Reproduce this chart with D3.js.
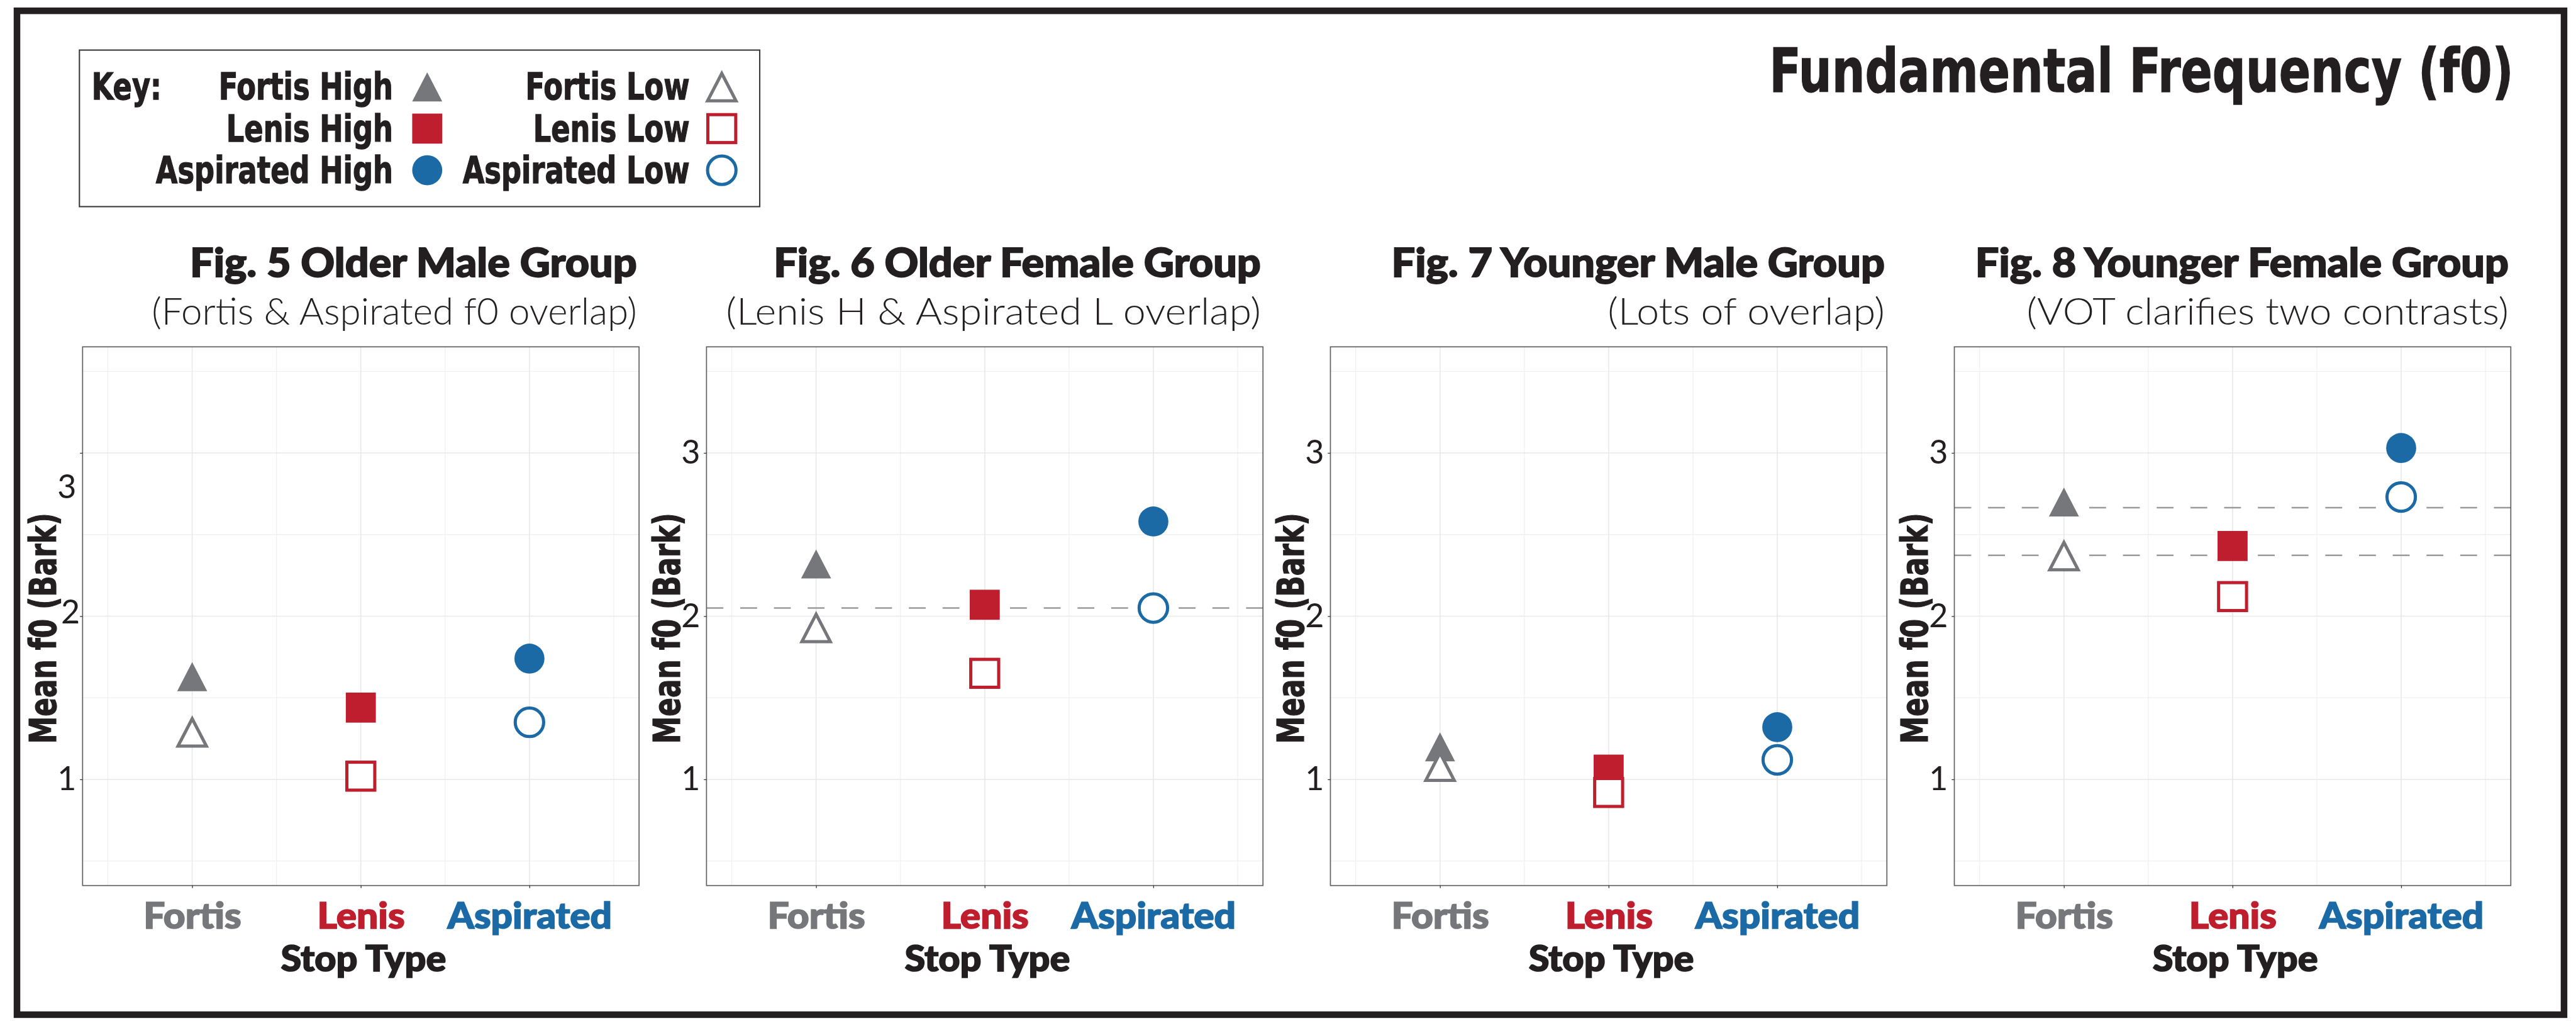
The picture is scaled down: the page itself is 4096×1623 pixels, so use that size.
<!DOCTYPE html>
<html>
<head>
<meta charset="utf-8">
<script src="https://cdn.jsdelivr.net/npm/d3@7"></script>
<style>
  body { margin: 0; background: #fff; }
  svg { display: block; }
</style>
</head>
<body>
<svg id="chart"></svg>
<script>
(function() {

  // ---- data ----
  var categories = ["Fortis", "Lenis", "Aspirated"];
  var categoryColors = ["#76777b", "#be1e2d", "#1b6aa5"];

  var figTitles = ["Fig. 5 Older Male Group", "Fig. 6 Older Female Group",
                   "Fig. 7 Younger Male Group", "Fig. 8 Younger Female Group"];
  var figSubtitles = ["(Fortis & Aspirated f0 overlap)", "(Lenis H & Aspirated L overlap)",
                      "(Lots of overlap)", "(VOT clarifies two contrasts)"];

  // mean f0 (Bark), one row per figure, columns = Fortis, Lenis, Aspirated
  var highMeans = [[1.60, 1.44, 1.74],
                   [2.29, 2.07, 2.58],
                   [1.17, 1.06, 1.32],
                   [2.67, 2.43, 3.03]];
  var lowMeans  = [[1.26, 1.02, 1.35],
                   [1.90, 1.65, 2.05],
                   [1.05, 0.92, 1.12],
                   [2.34, 2.12, 2.73]];

  // dashed reference lines per figure
  var guideLines = [[], [2.05], [], [2.665, 2.373]];

  var yTicks = [1, 2, 3];
  var keyHigh = ["Fortis High", "Lenis High", "Aspirated High"];
  var keyLow = ["Fortis Low", "Lenis Low", "Aspirated Low"];
  var mainTitle = "Fundamental Frequency (f0)";
  var xTitle = "Stop Type";
  var yTitle = "Mean f0 (Bark)";

  // ---- drawing (in reference pixels, scaled by the viewBox) ----
  var W = 4887, H = 1937;

  var ink = "#231f20";
  var condensed = "'Liberation Sans Narrow', 'DejaVu Sans Condensed', 'Liberation Sans', Arial, sans-serif";
  var geometric = "Lato, 'Noto Sans', sans-serif";

  // widths the subtitles take in the reference
  var subtitleWidths = [921, 1015, 526, 915];

  var svg = d3.select("#chart")
      .attr("width", 4096)
      .attr("height", 1623)
      .attr("viewBox", "0 0 " + W + " " + H);

  function measure(text, font, size, weight) {
    var t = svg.append("text")
        .style("font-family", font)
        .style("font-size", size + "px")
        .style("font-weight", weight)
        .text(text);
    var w = t.node().getComputedTextLength();
    t.remove();
    return w;
  }

  // horizontal squeeze factors so the available fonts take the reference widths
  var kTitle = 1412 / measure(mainTitle, condensed, 115, 700);
  var kKey = 450 / measure(keyHigh[2], condensed, 71, 700);
  var kY = 438 / measure(yTitle, condensed, 70, 700);
  var kB = 1012 / measure(figTitles[3], geometric, 76, 900);

  // outer frame
  svg.append("rect")
      .attr("x", 31.5)
      .attr("y", 20.5)
      .attr("width", 4833.5)
      .attr("height", 1904.5)
      .attr("fill", "none")
      .attr("stroke", ink)
      .attr("stroke-width", 12.5);

  svg.append("text")
      .attr("transform", "translate(4769,174) scale(" + kTitle + ",1)")
      .attr("text-anchor", "end")
      .attr("fill", ink)
      .attr("stroke", ink)
      .attr("stroke-width", 1.5)
      .style("font-family", condensed)
      .style("font-size", "115px")
      .style("font-weight", 700)
      .text(mainTitle);

  function marker(g, shape, cx, cy, color, filled) {
    var m;
    if (shape === 0) {
      // triangle, centred on its centroid like R's pch 17 / 2
      var w = filled ? 57 : 54, h = filled ? 55 : 52;
      m = g.append("path")
          .attr("d", "M" + cx + "," + (cy - 2 * h / 3) +
                     "L" + (cx + w / 2) + "," + (cy + h / 3) +
                     "L" + (cx - w / 2) + "," + (cy + h / 3) + "Z");
    } else if (shape === 1) {
      var s = filled ? 57 : 53;
      m = g.append("rect")
          .attr("x", cx - s / 2)
          .attr("y", cy - s / 2)
          .attr("width", s)
          .attr("height", s);
    } else {
      m = g.append("circle")
          .attr("cx", cx)
          .attr("cy", cy)
          .attr("r", filled ? 28.5 : 27);
    }
    if (filled) {
      m.attr("fill", color).attr("stroke", "none");
    } else {
      m.attr("fill", "#fff").attr("stroke", color).attr("stroke-width", 6);
    }
    return m;
  }

  // ---- key ----
  var key = svg.append("g").attr("class", "key");

  key.append("rect")
      .attr("x", 150)
      .attr("y", 95)
      .attr("width", 1291)
      .attr("height", 297)
      .attr("fill", "#fff")
      .attr("stroke", "#3a3a3a")
      .attr("stroke-width", 2.5);

  var keyRow = d3.scaleLinear().domain([0, 2]).range([165, 323]);

  function keyText(x, yy, text) {
    return key.append("text")
        .attr("transform", "translate(" + x + "," + yy + ") scale(" + kKey + ",1)")
        .attr("text-anchor", "end")
        .attr("fill", ink)
        .attr("stroke", ink)
        .attr("stroke-width", 1.5)
        .style("font-family", condensed)
        .style("font-size", "71px")
        .style("font-weight", 700)
        .text(text);
  }

  keyText(306, 189, "Key:");

  keyHigh.forEach(function(label, j) {
    var cy = keyRow(j) + (j === 0 ? 9 : 0);
    keyText(745, keyRow(j) + 24, label);
    marker(key, j, 810, cy, categoryColors[j], true);
  });

  keyLow.forEach(function(label, j) {
    var cy = keyRow(j) + (j === 0 ? 9 : 0);
    keyText(1308, keyRow(j) + 24, label);
    marker(key, j, 1369, cy, categoryColors[j], false);
  });

  // ---- figures ----
  var plotTop = 658,
      plotBottom = 1680,
      plotWidth = 1056;

  var y = d3.scaleLinear()
      .domain([0.35, 3.65])
      .range([plotBottom, plotTop]);

  var x = d3.scaleLinear()
      .domain([0.35, 3.65]);

  var minorBreaks = [0.5, 1.5, 2.5, 3.5];

  figTitles.forEach(function(title, i) {
    var left = 156 + i * 1184,
        right = left + plotWidth;

    x.range([left, right]);

    var g = svg.append("g").attr("class", "figure");

    // grid
    g.selectAll(".minor-h")
        .data(minorBreaks)
      .enter().append("line")
        .attr("x1", left).attr("x2", right)
        .attr("y1", d => y(d)).attr("y2", d => y(d))
        .attr("stroke", "#f0f0f0")
        .attr("stroke-width", 1.5);

    g.selectAll(".minor-v")
        .data(minorBreaks)
      .enter().append("line")
        .attr("y1", plotTop).attr("y2", plotBottom)
        .attr("x1", d => x(d)).attr("x2", d => x(d))
        .attr("stroke", "#f0f0f0")
        .attr("stroke-width", 1.5);

    g.selectAll(".major-h")
        .data(yTicks)
      .enter().append("line")
        .attr("x1", left).attr("x2", right)
        .attr("y1", d => y(d)).attr("y2", d => y(d))
        .attr("stroke", "#e9e9e9")
        .attr("stroke-width", 2);

    g.selectAll(".major-v")
        .data(categories)
      .enter().append("line")
        .attr("y1", plotTop).attr("y2", plotBottom)
        .attr("x1", (d, j) => x(j + 1)).attr("x2", (d, j) => x(j + 1))
        .attr("stroke", "#e9e9e9")
        .attr("stroke-width", 2);

    // dashed guides
    g.selectAll(".guide")
        .data(guideLines[i])
      .enter().append("line")
        .attr("x1", left).attr("x2", right)
        .attr("y1", d => y(d)).attr("y2", d => y(d))
        .attr("stroke", "#9b9b9b")
        .attr("stroke-width", 3)
        .attr("stroke-dasharray", "32,32");

    // panel border
    g.append("rect")
        .attr("x", left)
        .attr("y", plotTop)
        .attr("width", plotWidth)
        .attr("height", plotBottom - plotTop)
        .attr("fill", "none")
        .attr("stroke", "#5f5f5f")
        .attr("stroke-width", 2);

    // axes
    var yAxis = d3.axisLeft(y)
        .tickValues(yTicks)
        .tickSize(5)
        .tickPadding(7)
        .tickFormat(d3.format("d"));

    var ya = g.append("g")
        .attr("transform", "translate(" + left + ",0)")
        .call(yAxis);

    ya.select(".domain").remove();
    ya.selectAll(".tick line").attr("stroke", "#333").attr("stroke-width", 1.5);
    ya.selectAll(".tick text")
        .attr("fill", ink)
        .style("font-family", geometric)
        .style("font-size", "62px")
        .style("font-weight", 400);

    if (i === 0) {
      // the first figure's tick labels sit off their gridlines in the original
      ya.selectAll(".tick text").filter(d => d === 3).attr("dy", 86);
      ya.selectAll(".tick text").filter(d => d === 2).attr("x", -5).attr("dy", 13);
    }

    var xAxis = d3.axisBottom(x)
        .tickValues([1, 2, 3])
        .tickSize(5)
        .tickFormat(d => categories[d - 1]);

    var xa = g.append("g")
        .attr("transform", "translate(0," + plotBottom + ")")
        .call(xAxis);

    xa.select(".domain").remove();
    xa.selectAll(".tick line").attr("stroke", "#333").attr("stroke-width", 1.5);
    xa.selectAll(".tick text")
        .attr("y", 0)
        .attr("dy", null)
        .attr("transform", "translate(0,81) scale(" + kB + ",1)")
        .attr("fill", d => categoryColors[d - 1])
        .attr("stroke", d => categoryColors[d - 1])
        .attr("stroke-width", 2)
        .style("font-family", geometric)
        .style("font-size", "69px")
        .style("font-weight", 900);

    // points: high (filled) first, low (open, white inside) on top
    categories.forEach(function(c, j) {
      marker(g, j, x(j + 1), y(highMeans[i][j]), categoryColors[j], true);
    });
    categories.forEach(function(c, j) {
      marker(g, j, x(j + 1), y(lowMeans[i][j]), categoryColors[j], false);
    });

    // titles
    g.append("text")
        .attr("transform", "translate(" + (right - 4) + ",525) scale(" + kB + ",1)")
        .attr("text-anchor", "end")
        .attr("fill", ink)
        .attr("stroke", ink)
        .attr("stroke-width", 2.2)
        .style("font-family", geometric)
        .style("font-size", "76px")
        .style("font-weight", 900)
        .text(title);

    var kL = subtitleWidths[i] / measure(figSubtitles[i], geometric, 71, 300);

    g.append("text")
        .attr("transform", "translate(" + (right - 4) + ",616) scale(" + kL + ",1)")
        .attr("text-anchor", "end")
        .attr("fill", ink)
        .style("font-family", geometric)
        .style("font-size", "71px")
        .style("font-weight", 300)
        .text(figSubtitles[i]);

    g.append("text")
        .attr("transform", "translate(" + (x(2) + 5) + ",1843) scale(" + kB + ",1)")
        .attr("text-anchor", "middle")
        .attr("fill", ink)
        .attr("stroke", ink)
        .attr("stroke-width", 2)
        .style("font-family", geometric)
        .style("font-size", "68px")
        .style("font-weight", 900)
        .text(xTitle);

    g.append("text")
        .attr("transform", "translate(" + (left - 76) + ",1192) rotate(-90) scale(" + kY + ",1)")
        .attr("text-anchor", "middle")
        .attr("dy", "0.36em")
        .attr("fill", ink)
        .attr("stroke", ink)
        .attr("stroke-width", 1.5)
        .style("font-family", condensed)
        .style("font-size", "70px")
        .style("font-weight", 700)
        .text(yTitle);
  });

})();
</script>
</body>
</html>
